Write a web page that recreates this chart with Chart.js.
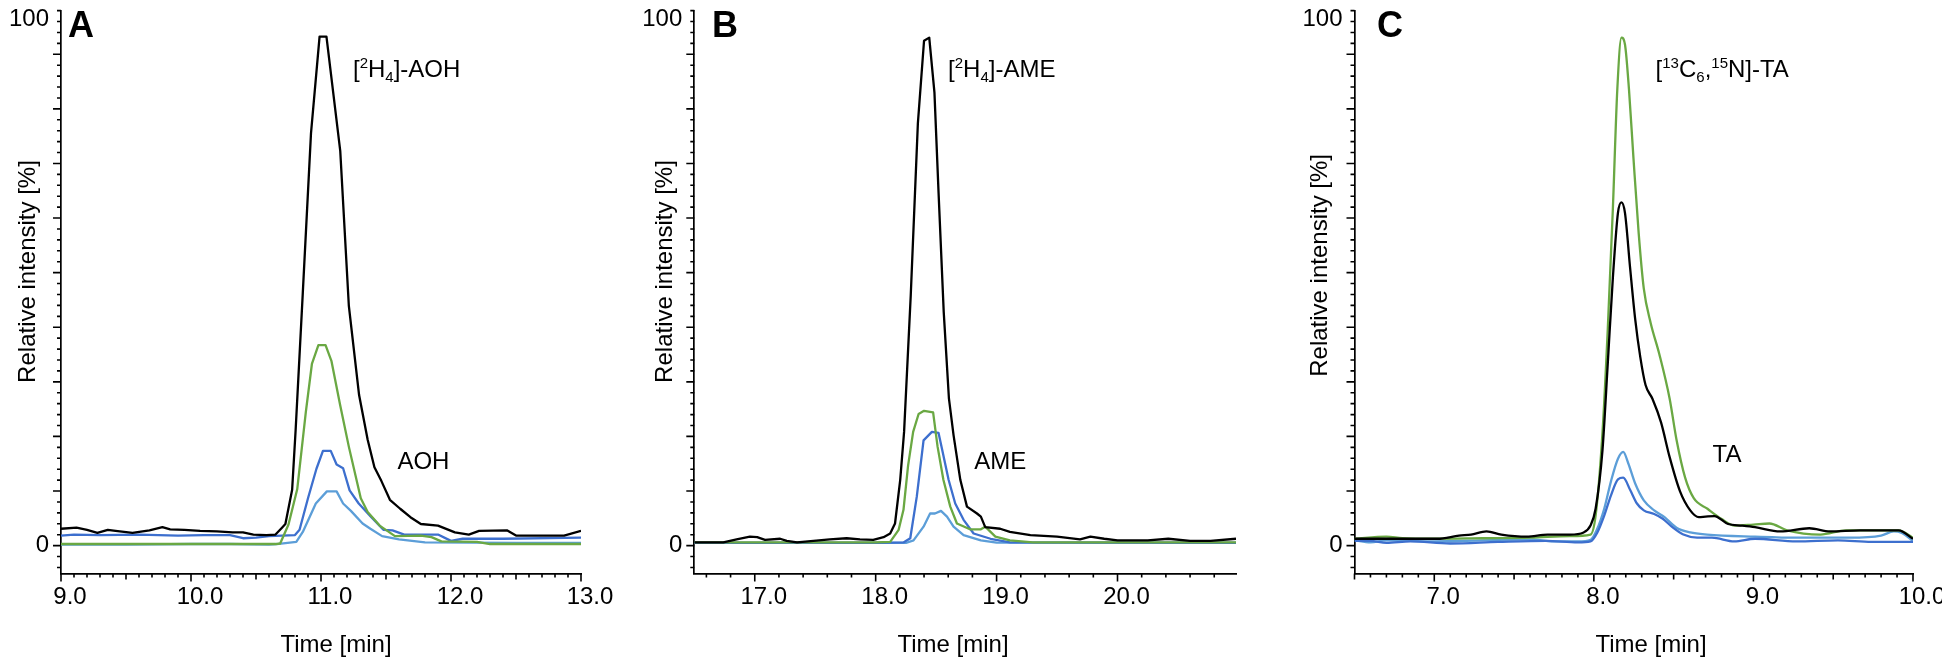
<!DOCTYPE html>
<html>
<head>
<meta charset="utf-8">
<title>Chromatograms</title>
<script src="https://cdn.jsdelivr.net/npm/chart.js@4.4.1/dist/chart.umd.min.js"></script>
<style>
  html, body { margin: 0; padding: 0; background: #fff; }
  #wrap { position: relative; width: 1942px; height: 663px; overflow: hidden; }
  #wrap canvas { position: absolute; left: 0; top: 0; width: 1942px; height: 663px; }
</style>
</head>
<body>
<div id="wrap">
  <canvas id="chartA" width="1942" height="663"></canvas>
  <canvas id="chartB" width="1942" height="663"></canvas>
  <canvas id="chartC" width="1942" height="663"></canvas>
</div>
<script>
// ---- data: [time (min), relative intensity (%)] ----
const yTickLabels = [0, 100];
const aTimeTicks = [9, 10, 11, 12, 13];
const bTimeTicks = [17, 18, 19, 20];
const cTimeTicks = [7, 8, 9, 10];

const aBlack = [[9.0,3.2],[9.12,3.4],[9.2,3.0],[9.28,2.4],[9.36,3.0],[9.42,2.8],[9.55,2.4],[9.68,2.9],[9.78,3.5],
  [9.84,3.1],[9.95,3.0],[10.07,2.8],[10.2,2.7],[10.32,2.5],[10.4,2.5],[10.48,2.1],[10.58,2.0],[10.65,2.1],
  [10.7,3.4],[10.726,4.1],[10.778,10.6],[10.805,22],[10.86,48],[10.923,78.3],[10.989,96.7],[11.042,96.7],
  [11.148,75],[11.214,45.6],[11.293,28.6],[11.359,20.1],[11.411,14.9],[11.464,12.3],[11.53,8.7],[11.609,7.0],
  [11.688,5.4],[11.768,4.1],[11.9,3.8],[12.03,2.5],[12.137,2.1],[12.216,2.8],[12.43,2.9],[12.5,1.9],
  [12.7,1.9],[12.87,1.9],[13.0,2.8]];
const aGreen = [[9.0,0.3],[9.5,0.3],[10.0,0.3],[10.4,0.3],[10.65,0.3],[10.686,0.4],[10.75,4.0],[10.817,10.7],
  [10.883,25.3],[10.93,34.5],[10.98,38.1],[11.035,38.1],[11.08,35.1],[11.148,26.6],[11.214,18.8],[11.306,9.0],
  [11.359,6.4],[11.451,3.8],[11.569,1.8],[11.768,1.9],[11.85,1.6],[11.926,0.8],[12.2,0.7],[12.3,0.3],[13.0,0.3]];
const aBlue = [[9.0,1.9],[9.1,2.1],[9.3,2.0],[9.6,2.1],[9.9,1.9],[10.1,2.0],[10.3,2.0],[10.4,1.4],[10.5,1.5],
  [10.6,1.8],[10.8,2.0],[10.835,3.0],[10.9,9.0],[10.965,14.6],[11.015,18.0],[11.075,18.0],[11.12,15.4],
  [11.17,14.7],[11.22,10.5],[11.29,8.0],[11.38,5.6],[11.48,3.0],[11.55,2.9],[11.64,2.1],[11.9,2.1],
  [12.0,0.9],[12.09,1.3],[12.4,1.3],[13.0,1.5]];
const aSky = [[9.0,0.2],[9.5,0.2],[10.0,0.3],[10.3,0.3],[10.6,0.2],[10.66,0.3],[10.81,0.7],[10.86,2.6],
  [10.96,8.0],[11.045,10.3],[11.12,10.3],[11.17,8.0],[11.23,6.6],[11.32,4.2],[11.38,3.2],[11.47,1.8],
  [11.6,1.2],[11.8,0.6],[12.5,0.5],[13.0,0.5]];

const bBlack = [[16.5,0.6],[16.74,0.6],[16.85,1.2],[16.96,1.7],[17.02,1.6],[17.085,1.1],[17.21,1.3],[17.265,0.9],
  [17.35,0.6],[17.485,0.9],[17.62,1.2],[17.76,1.4],[17.87,1.2],[17.98,1.1],[18.065,1.6],[18.12,2.3],[18.16,4.2],
  [18.203,12.5],[18.235,21.6],[18.29,47.5],[18.349,80.2],[18.4,95.9],[18.443,96.5],[18.486,86.1],[18.52,67.1],
  [18.563,44.3],[18.606,27.9],[18.644,21.0],[18.7,12.5],[18.755,7.4],[18.838,6.1],[18.87,5.5],[18.906,3.5],
  [19.03,3.2],[19.11,2.6],[19.28,2.0],[19.5,1.7],[19.69,1.2],[19.776,1.7],[19.89,1.3],[20.0,1.0],[20.25,1.0],
  [20.42,1.3],[20.6,0.9],[20.77,0.9],[20.98,1.3]];
const bGreen = [[16.5,0.6],[17.0,0.6],[17.5,0.6],[18.0,0.6],[18.12,0.7],[18.19,3.0],[18.23,6.8],[18.268,15.2],
  [18.31,21.6],[18.355,25.0],[18.4,25.6],[18.475,25.3],[18.512,18.8],[18.56,12.5],[18.617,7.4],[18.672,4.2],
  [18.78,3.1],[18.87,3.1],[18.906,3.6],[18.99,1.7],[19.11,1.0],[19.3,0.6],[20.98,0.6]];
const bBlue = [[16.5,0.5],[17.5,0.5],[18.0,0.5],[18.23,0.6],[18.286,1.4],[18.34,9.3],[18.396,20.0],[18.465,21.6],
  [18.52,21.4],[18.55,18.2],[18.603,12.5],[18.658,8.0],[18.727,4.9],[18.81,2.3],[18.95,1.3],[19.11,0.6],[20.98,0.5]];
const bSky = [[16.5,0.5],[17.5,0.5],[18.25,0.5],[18.313,1.0],[18.396,3.6],[18.45,6.1],[18.49,6.1],[18.54,6.6],
  [18.59,5.5],[18.644,3.6],[18.727,2.0],[18.87,1.0],[19.0,0.55],[20.98,0.5]];

const cBlack = [[6.5,1.3],[6.76,1.3],[7.02,1.3],[7.155,1.9],[7.23,2.1],[7.327,2.7],[7.42,2.1],[7.58,1.7],[7.71,2.1],
  [7.85,2.1],[7.936,2.5],[7.979,3.8],[8.011,7.0],[8.054,18.1],[8.087,34.5],[8.119,50.8],[8.151,63.2],[8.173,65.2],
  [8.195,63.2],[8.227,52.8],[8.259,43.0],[8.291,35.8],[8.324,30.5],[8.367,27.9],[8.421,23.4],[8.475,16.8],
  [8.54,10.3],[8.604,6.7],[8.658,5.4],[8.7,5.5],[8.755,5.6],[8.841,4.1],[8.928,3.8],[9.01,3.5],[9.168,2.7],
  [9.35,3.3],[9.48,2.7],[9.67,2.9],[9.91,2.9],[10.0,1.3]];
const cGreen = [[6.5,1.3],[6.7,1.7],[6.8,1.4],[7.0,1.3],[7.3,1.4],[7.6,1.5],[7.85,1.8],[7.979,2.1],[8.011,5.7],
  [8.054,21.4],[8.087,41.0],[8.119,63.9],[8.147,86.7],[8.173,96.5],[8.195,95.2],[8.22,86.7],[8.248,73.7],
  [8.281,59.3],[8.313,48.8],[8.356,42.3],[8.41,36.4],[8.475,27.9],[8.518,20.1],[8.572,12.9],[8.626,9.0],
  [8.712,7.0],[8.798,5.1],[8.884,3.8],[9.0,4.0],[9.1,4.2],[9.21,2.9],[9.42,2.1],[9.58,2.9],[9.91,2.9],[10.0,1.5]];
const cBlue = [[6.5,0.9],[6.6,0.9],[6.7,0.5],[6.85,0.8],[7.1,0.4],[7.4,0.7],[7.7,0.9],[7.9,0.6],[7.979,0.8],
  [8.022,2.5],[8.065,5.7],[8.108,9.6],[8.151,12.6],[8.184,12.9],[8.227,10.6],[8.27,8.0],[8.313,6.7],[8.378,6.0],
  [8.432,5.1],[8.496,3.4],[8.561,2.1],[8.647,1.5],[8.74,1.5],[8.88,0.8],[9.01,1.3],[9.27,0.8],[9.53,1.0],
  [9.74,0.7],[10.0,0.7]];
const cSky = [[6.5,1.0],[6.6,0.6],[6.7,1.0],[7.0,0.8],[7.3,1.0],[7.6,1.2],[7.75,0.8],[7.9,0.8],[7.98,1.1],
  [8.02,3.1],[8.065,7.0],[8.108,12.3],[8.151,16.5],[8.184,17.8],[8.216,15.6],[8.259,11.8],[8.313,8.6],[8.378,6.7],
  [8.443,5.4],[8.518,3.4],[8.604,2.5],[8.71,2.1],[9.01,1.7],[9.27,1.5],[9.6,1.5],[9.8,1.9],[9.88,2.7],[9.93,2.4],
  [10.0,0.9]];

const aNotes = ['[^{2}H_{4}]-AOH', 'AOH'];
const bNotes = ['[^{2}H_{4}]-AME', 'AME'];
const cNotes = ['[^{13}C_{6},^{15}N]-TA', 'TA'];

// ---- look ----
const FONT = '"Liberation Sans", Arial, Helvetica, sans-serif';
const COLORS = ['#000000', '#6aa843', '#3d6fce', '#5c9ed8'];
const W = 1942, H = 663;
const PLOT_TOP = 10.5, PLOT_BOTTOM = 573.5;
const Y_MIN = -5.3, Y_MAX = 101.65, Y_MINOR = 2.074;
const Y_AXIS_W = 60, X_AXIS_H = 60;

Chart.defaults.font.family = FONT;
Chart.defaults.font.size = 24;
Chart.defaults.color = '#000';

const panels = [
  { canvas: 'chartA', letter: 'A', left: 61, right: 581, xMin: 9, xMax: 13, ticks: aTimeTicks, minor: 0.1, half: true,
    smooth: false, series: [aBlack, aGreen, aBlue, aSky], notes: aNotes, noteAt: [[11.246, 89], [11.588, 14.5]],
    letterX: 68, xTitleX: 336, yTitleX: 35, yTitleY: 271.5 },
  { canvas: 'chartB', letter: 'B', left: 694.3, right: 1236, xMin: 16.5, xMax: 20.98, ticks: bTimeTicks, minor: 0.2, half: false,
    smooth: false, series: [bBlack, bGreen, bBlue, bSky], notes: bNotes, noteAt: [[18.599, 89], [18.815, 14.6]],
    letterX: 712, xTitleX: 953, yTitleX: 672, yTitleY: 271.5 },
  { canvas: 'chartC', letter: 'C', left: 1354.5, right: 1913, xMin: 6.5, xMax: 10, ticks: cTimeTicks, minor: 0.1, half: true,
    smooth: true, series: [cBlack, cGreen, cBlue, cSky], notes: cNotes, noteAt: [[8.387, 89], [8.744, 15.9]],
    letterX: 1377, xTitleX: 1651, yTitleX: 1326.5, yTitleY: 265.4 }
];

// text with ^{sup} and _{sub} runs
function drawRich(ctx, str, x, y, size) {
  const re = /([\^_])\{([^}]*)\}|([^\^_]+)/g;
  let m;
  ctx.textAlign = 'left';
  ctx.textBaseline = 'alphabetic';
  while ((m = re.exec(str))) {
    const shift = m[3] ? 0 : (m[1] === '^' ? 1 : -1);
    const text = m[3] || m[2];
    const fs = shift ? Math.round(size * 0.64) : size;
    ctx.font = fs + 'px ' + FONT;
    const dy = shift > 0 ? -size * 0.36 : shift < 0 ? size * 0.2 : 0;
    ctx.fillText(text, x, y + dy);
    x += ctx.measureText(text).width;
  }
}

// minor and major tick marks, outside the axes
const tickMarks = {
  id: 'tickMarks',
  afterDraw(chart, args, opts) {
    const { ctx } = chart;
    const x = chart.scales.x, y = chart.scales.y;
    ctx.save();
    ctx.strokeStyle = '#000';
    ctx.lineWidth = 1.6;
    ctx.beginPath();
    for (let k = Math.ceil(x.min / opts.minor - 1e-6); k * opts.minor <= x.max + 1e-6; k++) {
      const v = k * opts.minor;
      const major = Math.abs(v - Math.round(v)) < 1e-6;
      const half = opts.half && Math.abs(v * 2 - Math.round(v * 2)) < 1e-6;
      const len = major ? 8 : half ? 6 : 4;
      const px = x.getPixelForValue(v);
      ctx.moveTo(px, x.top);
      ctx.lineTo(px, x.top + len);
    }
    for (let k = Math.ceil(y.min / Y_MINOR); k * Y_MINOR <= y.max + 1e-6; k++) {
      const py = y.getPixelForValue(k * Y_MINOR);
      const len = k % 5 === 0 ? 8 : 4;
      ctx.moveTo(y.right, py);
      ctx.lineTo(y.right - len, py);
    }
    ctx.stroke();
    ctx.restore();
  }
};

// panel letter, axis titles and peak labels
const panelText = {
  id: 'panelText',
  afterDraw(chart, args, p) {
    const { ctx } = chart;
    const x = chart.scales.x, y = chart.scales.y;
    ctx.save();
    ctx.fillStyle = '#000';
    ctx.font = 'bold 36px ' + FONT;
    ctx.textAlign = 'left';
    ctx.textBaseline = 'alphabetic';
    ctx.fillText(p.letter, p.letterX, 36.7);

    ctx.font = '24px ' + FONT;
    ctx.textAlign = 'center';
    ctx.fillText('Time [min]', p.xTitleX, 651.5);

    ctx.save();
    ctx.translate(p.yTitleX, p.yTitleY);
    ctx.rotate(-Math.PI / 2);
    ctx.fillText('Relative intensity [%]', 0, 0);
    ctx.restore();

    p.notes.forEach((txt, i) => {
      const [t, v] = p.noteAt[i];
      drawRich(ctx, txt, x.getPixelForValue(t), y.getPixelForValue(v), 24);
    });
    ctx.restore();
  }
};

function makePanel(p) {
  const datasets = p.series.map((s, i) => ({
    data: s.map(([t, v]) => ({ x: t, y: v })),
    borderColor: COLORS[i],
    borderWidth: 2.3,
    borderJoinStyle: 'round',
    pointRadius: 0,
    tension: 0,
    cubicInterpolationMode: p.smooth ? 'monotone' : 'default',
    fill: false
  }));

  new Chart(document.getElementById(p.canvas), {
    type: 'line',
    data: { datasets },
    options: {
      responsive: false,
      animation: false,
      devicePixelRatio: 1,
      events: [],
      layout: {
        autoPadding: false,
        padding: { left: p.left - Y_AXIS_W, right: W - p.right, top: PLOT_TOP, bottom: H - PLOT_BOTTOM - X_AXIS_H }
      },
      plugins: {
        legend: { display: false },
        tooltip: { enabled: false },
        tickMarks: { minor: p.minor, half: p.half },
        panelText: p
      },
      scales: {
        x: {
          type: 'linear',
          bounds: 'data',
          min: p.xMin,
          max: p.xMax,
          afterBuildTicks: s => { s.ticks = p.ticks.map(v => ({ value: v })); },
          afterFit: s => { s.height = X_AXIS_H; s.paddingLeft = 0; s.paddingRight = 0; },
          ticks: { autoSkip: false, maxRotation: 0, labelOffset: 9, padding: 1, color: '#000',
                   callback: v => Number(v).toFixed(1) },
          grid: { display: true, drawOnChartArea: false, drawTicks: true, tickLength: 8, tickColor: 'rgba(0,0,0,0)' },
          border: { display: true, color: '#000', width: 1.7 }
        },
        y: {
          type: 'linear',
          bounds: 'data',
          min: Y_MIN,
          max: Y_MAX,
          afterBuildTicks: s => { s.ticks = yTickLabels.map(v => ({ value: v })); },
          afterFit: s => { s.width = Y_AXIS_W; s.paddingTop = 0; s.paddingBottom = 0; },
          ticks: { padding: 4, color: '#000', callback: v => String(v) },
          grid: { display: true, drawOnChartArea: false, drawTicks: true, tickLength: 8, tickColor: 'rgba(0,0,0,0)' },
          border: { display: true, color: '#000', width: 1.7 }
        }
      }
    },
    plugins: [tickMarks, panelText]
  });
}

panels.forEach(makePanel);
</script>
</body>
</html>
